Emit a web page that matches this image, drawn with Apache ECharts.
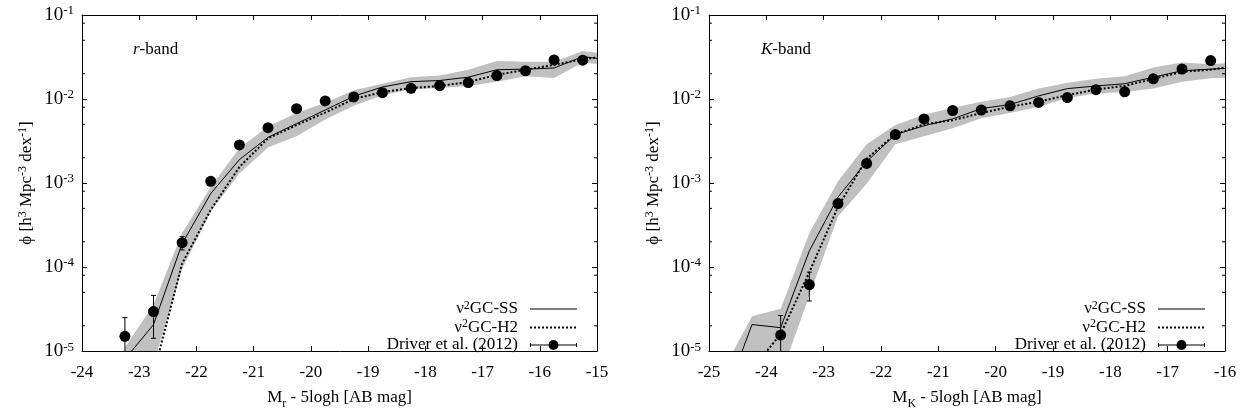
<!DOCTYPE html>
<html>
<head>
<meta charset="utf-8">
<script src="https://cdn.jsdelivr.net/npm/echarts@6/dist/echarts.min.js"></script>
<style>html,body{margin:0;padding:0;background:#fff}#c{width:1241px;height:415px}</style>
</head>
<body>
<div id="c"></div>
<script>
// ---------- data ----------
// r-band panel
const rModelX   = [-23.25,-22.75,-22.25,-21.75,-21.25,-20.75,-20.25,-19.75,-19.25,-18.75,-18.25,-17.75,-17.25,-16.75,-16.25,-15.75,-15.25,-14.75];
const rSS       = [8e-6,2.07e-5,1.9e-4,7.5e-4,1.9e-3,3.5e-3,5.1e-3,7.4e-3,1.08e-2,1.39e-2,1.61e-2,1.66e-2,1.82e-2,2.23e-2,2.27e-2,2.34e-2,3.2e-2,2.9e-2];
const rH2       = [1e-6,5.4e-6,1.1e-4,4.8e-4,1.55e-3,3.4e-3,4.9e-3,6.9e-3,1.0e-2,1.21e-2,1.35e-2,1.43e-2,1.59e-2,1.94e-2,2.23e-2,2.55e-2,2.98e-2,3.25e-2];
const rBandHi   = [1.1e-5,3.55e-5,2.55e-4,9e-4,2.6e-3,4.7e-3,6.8e-3,9.0e-3,1.27e-2,1.52e-2,1.82e-2,1.9e-2,2.23e-2,2.84e-2,2.77e-2,2.77e-2,3.72e-2,3.4e-2];
const rBandLo   = [1e-6,7e-6,9.5e-5,4.6e-4,1.3e-3,2.64e-3,3.6e-3,5.7e-3,8.3e-3,1.11e-2,1.3e-2,1.35e-2,1.43e-2,1.61e-2,1.87e-2,1.78e-2,2.72e-2,2.5e-2];
const rObsX     = [-23.25,-22.75,-22.25,-21.75,-21.25,-20.75,-20.25,-19.75,-19.25,-18.75,-18.25,-17.75,-17.25,-16.75,-16.25,-15.75,-15.25];
const rObs      = [1.5e-5,2.95e-5,1.95e-4,1.05e-3,2.84e-3,4.56e-3,7.67e-3,9.5e-3,1.06e-2,1.19e-2,1.34e-2,1.44e-2,1.57e-2,1.9e-2,2.17e-2,2.92e-2,2.9e-2];
const rObsHi    = [2.5e-5,4.6e-5,2.3e-4,null,null,null,null,null,null,null,null,null,null,null,null,null,null];
const rObsLo    = [5e-6,1.42e-5,1.6e-4,null,null,null,null,null,null,null,null,null,null,null,null,null,null];

// K-band panel
const kModelX   = [-24.75,-24.25,-23.75,-23.25,-22.75,-22.25,-21.75,-21.25,-20.75,-20.25,-19.75,-19.25,-18.75,-18.25,-17.75,-17.25,-16.75,-16.25,-15.75];
const kSS       = [2.5e-6,2.07e-5,1.9e-5,1.56e-4,6.8e-4,1.8e-3,3.77e-3,4.8e-3,5.8e-3,7.7e-3,8.6e-3,1.09e-2,1.33e-2,1.43e-2,1.52e-2,1.82e-2,2.17e-2,2.27e-2,2.36e-2];
const kH2       = [1e-6,6e-6,1.6e-5,8.7e-5,5.2e-4,1.95e-3,3.8e-3,5.0e-3,5.6e-3,6.8e-3,8.1e-3,9.3e-3,1.11e-2,1.3e-2,1.43e-2,1.74e-2,2.11e-2,2.23e-2,2.53e-2];
const kBandHi   = [6e-6,2.6e-5,3.2e-5,2.55e-4,1.05e-3,2.9e-3,4.9e-3,6.5e-3,7.9e-3,9.3e-3,1.06e-2,1.33e-2,1.56e-2,1.74e-2,1.87e-2,2.38e-2,2.72e-2,2.6e-2,2.75e-2];
const kBandLo   = [1e-7,1e-7,5e-6,4.6e-5,4.0e-4,9.8e-4,2.9e-3,3.6e-3,4.5e-3,5.9e-3,6.8e-3,8.1e-3,1.03e-2,1.16e-2,1.21e-2,1.33e-2,1.61e-2,1.77e-2,1.8e-2];
const kObsX     = [-23.75,-23.25,-22.75,-22.25,-21.75,-21.25,-20.75,-20.25,-19.75,-19.25,-18.75,-18.25,-17.75,-17.25,-16.75,-16.25];
const kObs      = [1.55e-5,6.2e-5,5.7e-4,1.71e-3,3.77e-3,5.8e-3,7.3e-3,7.4e-3,8.3e-3,9.1e-3,1.04e-2,1.29e-2,1.22e-2,1.74e-2,2.27e-2,2.87e-2];
const kObsHi    = [2.65e-5,8.7e-5,null,null,null,null,null,null,null,null,null,null,null,null,null,null];
const kObsLo    = [5e-6,3.95e-5,null,null,null,null,null,null,null,null,null,null,null,null,null,null];

// axes
const rXRange = [-24, -15];
const kXRange = [-25, -16];
const yRange  = [1e-5, 1e-1];
const minorTicks = [2e-5,5e-5,8e-5,2e-4,5e-4,8e-4,2e-3,5e-3,8e-3,2e-2,5e-2,8e-2];

// text
const NAME_SS = 'ν2GC-SS', NAME_H2 = 'ν2GC-H2', NAME_OBS = 'Driver et al. (2012)';
const legendLabels = {};
legendLabels[NAME_SS]  = '{n|ν}{s|2}{n|GC-SS}';
legendLabels[NAME_H2]  = '{n|ν}{s|2}{n|GC-H2}';
legendLabels[NAME_OBS] = '{n|Driver et al. (2012)}';

// ---------- styling ----------
const FONT = "'Liberation Serif', 'Times New Roman', serif";
const FS = 17;
const BAND = '#c0c0c0';
const richBase = {
  n:   {fontFamily: FONT, fontSize: FS, lineHeight: 17, fontWeight: 'normal', color: '#000'},
  s:   {fontFamily: FONT, fontSize: 12, lineHeight: 10, padding: [0,0,7,0], fontWeight: 'normal', color: '#000'},
  sub: {fontFamily: FONT, fontSize: 12, lineHeight: 12, padding: [12,0,0,0], fontWeight: 'normal', color: '#000'},
  i:   {fontFamily: FONT, fontSize: FS, lineHeight: 17, fontStyle: 'italic', fontWeight: 'normal', color: '#000'}
};

const zip = (xs, ys) => xs.map((x, i) => [x, ys[i]]);

function xAxes(gi, range, sub) {
  const common = {
    gridIndex: gi, type: 'value', min: range[0], max: range[1], interval: 1,
    axisLine: {show: true, onZero: false, lineStyle: {color: '#000', width: 1}},
    axisTick: {show: true, inside: true, length: 5, lineStyle: {color: '#000'}},
    splitLine: {show: false}
  };
  return [
    Object.assign({}, common, {
      position: 'bottom',
      axisLabel: {fontFamily: FONT, fontSize: FS, color: '#000', margin: 13},
      name: '{n|M}{sub|' + sub + '}{n| - 5logh [AB mag]}',
      nameLocation: 'middle', nameGap: 29,
      nameTextStyle: {rich: richBase}
    }),
    Object.assign({}, common, {position: 'top', axisLabel: {show: false}})
  ];
}
function yAxes(gi) {
  const common = {
    gridIndex: gi, type: 'log', logBase: 10, min: yRange[0], max: yRange[1],
    axisLine: {show: true, onZero: false, lineStyle: {color: '#000', width: 1}},
    axisTick: {show: true, inside: true, length: 5, lineStyle: {color: '#000'}},
    minorTick: {show: false},
    splitLine: {show: false}
  };
  return [
    Object.assign({}, common, {
      position: 'left',
      axisLabel: {
        margin: 8,
        formatter: v => '{b|10}{s|' + Math.round(Math.log10(v)) + '}',
        rich: {
          b: {fontFamily: FONT, fontSize: 19, lineHeight: 18, color: '#000'},
          s: {fontFamily: FONT, fontSize: 13, lineHeight: 10, padding: [0,0,8,0], color: '#000'}
        }
      },
      name: '{n|ϕ [h}{s|3}{n| Mpc}{s|-3}{n| dex}{s|-1}{n|]}',
      nameLocation: 'middle', nameGap: 47, nameRotate: 90,
      nameTextStyle: {rich: richBase}
    }),
    Object.assign({}, common, {position: 'right', axisLabel: {show: false}})
  ];
}

function bandSeries(ai, xs, lo, hi) {
  return {
    type: 'custom', xAxisIndex: ai, yAxisIndex: ai, clip: true, silent: true, z: 1,
    data: xs.map((x, i) => [x, lo[i], hi[i]]),
    encode: {x: 0, y: [1, 2]},
    renderItem(params, api) {
      if (params.dataIndex !== 0) return null;
      const pts = [];
      for (let i = 0; i < xs.length; i++) pts.push(api.coord([xs[i], hi[i]]));
      for (let i = xs.length - 1; i >= 0; i--) pts.push(api.coord([xs[i], lo[i]]));
      return {type: 'polygon', shape: {points: pts}, style: {fill: BAND}};
    }
  };
}
function lineSeries(ai, name, xs, ys, dotted) {
  return {
    type: 'line', name: name, xAxisIndex: ai, yAxisIndex: ai, z: 3,
    data: zip(xs, ys), symbol: 'none', clip: true, silent: true,
    lineStyle: dotted ? {color: '#000', width: 2, type: [2, 2]} : {color: '#000', width: 1},
    itemStyle: {color: '#000', opacity: 1}
  };
}
function errSeries(ai, xs, lo, hi) {
  const d = [];
  xs.forEach((x, i) => { if (hi[i] != null) d.push([x, lo[i], hi[i]]); });
  return {
    type: 'custom', name: 'err' + ai, xAxisIndex: ai, yAxisIndex: ai, clip: true, silent: true, z: 4,
    data: d, encode: {x: 0, y: [1, 2]},
    renderItem(params, api) {
      const x = api.value(0);
      const pl = api.coord([x, api.value(1)]);
      const ph = api.coord([x, api.value(2)]);
      const st = {stroke: '#000', lineWidth: 1};
      return {type: 'group', children: [
        {type: 'line', shape: {x1: pl[0], y1: pl[1], x2: ph[0], y2: ph[1]}, style: st},
        {type: 'line', shape: {x1: ph[0] - 2.5, y1: ph[1], x2: ph[0] + 2.5, y2: ph[1]}, style: st},
        {type: 'line', shape: {x1: pl[0] - 2.5, y1: pl[1], x2: pl[0] + 2.5, y2: pl[1]}, style: st}
      ]};
    }
  };
}
function obsSeries(ai, xs, ys) {
  return {
    type: 'scatter', name: NAME_OBS, xAxisIndex: ai, yAxisIndex: ai, z: 5,
    data: zip(xs, ys), symbol: 'circle', symbolSize: 11, clip: true, silent: true,
    itemStyle: {color: '#000', opacity: 1}
  };
}
function minorTickSeries(ai, range) {
  return {
    type: 'custom', name: 'minor' + ai, xAxisIndex: ai, yAxisIndex: ai, silent: true, z: 6,
    data: minorTicks.map(v => [range[0], v]), encode: {x: 0, y: 1},
    renderItem(params, api) {
      const v = api.value(1);
      const a = api.coord([range[0], v]);
      const b = api.coord([range[1], v]);
      const st = {stroke: '#000', lineWidth: 1};
      return {type: 'group', children: [
        {type: 'line', shape: {x1: a[0], y1: a[1], x2: a[0] + 3, y2: a[1]}, style: st},
        {type: 'line', shape: {x1: b[0], y1: b[1], x2: b[0] - 3, y2: b[1]}, style: st}
      ]};
    }
  };
}

const ICON_SS  = 'path://M0,0H0.01V0.01H0Z M0,4.5H47V5.5H0Z M46.99,9.99H47V10H46.99Z';
const ICON_H2  = 'path://M0,0H0.01V0.01H0Z M0,4H2V6H0Z M4,4H6V6H4Z M8,4H10V6H8Z M12,4H14V6H12Z M16,4H18V6H16Z M20,4H22V6H20Z M24,4H26V6H24Z M28,4H30V6H28Z M32,4H34V6H32Z M36,4H38V6H36Z M40,4H42V6H40Z M44,4H46V6H44Z M46.99,9.99H47V10H46.99Z';
const ICON_OBS = 'path://M0,4.5H47V5.5H0Z M0,3H1V7H0Z M46,3H47V7H46Z M28.5,5A5,5 0 1 1 18.5,5A5,5 0 1 1 28.5,5Z';

function legend(right) {
  return {
    orient: 'vertical', align: 'right', right: right, top: 299.5, padding: 0,
    itemWidth: 47, itemHeight: 10, itemGap: -0.5, selectedMode: false,
    itemStyle: {opacity: 1},
    data: [
      {name: NAME_SS, icon: ICON_SS, itemStyle: {color: '#000', opacity: 1}},
      {name: NAME_H2, icon: ICON_H2, itemStyle: {color: '#000', opacity: 1}},
      {name: NAME_OBS, icon: ICON_OBS, itemStyle: {color: '#000', opacity: 1}}
    ],
    formatter: n => legendLabels[n],
    textStyle: {fontFamily: FONT, fontSize: FS, color: '#000', padding: [0, 7, 0, 0], rich: richBase}
  };
}

const option = {
  backgroundColor: '#fff',
  animation: false,
  title: [
    {text: '{i|r}{n|-band}', left: 133, top: 41, padding: 0, textStyle: {fontWeight: 'normal', rich: richBase}},
    {text: '{i|K}{n|-band}', left: 761, top: 41, padding: 0, textStyle: {fontWeight: 'normal', rich: richBase}}
  ],
  legend: [legend(664), legend(36)],
  grid: [
    {left: 82, top: 15, width: 515, height: 342},
    {left: 709, top: 15, width: 516, height: 342}
  ],
  xAxis: [].concat(xAxes(0, rXRange, 'r'), xAxes(1, kXRange, 'K')),
  yAxis: [].concat(yAxes(0), yAxes(1)),
  series: [
    bandSeries(0, rModelX, rBandLo, rBandHi),
    lineSeries(0, NAME_SS, rModelX, rSS, false),
    lineSeries(0, NAME_H2, rModelX, rH2, true),
    errSeries(0, rObsX, rObsLo, rObsHi),
    obsSeries(0, rObsX, rObs),
    minorTickSeries(0, rXRange),
    bandSeries(2, kModelX, kBandLo, kBandHi),
    lineSeries(2, NAME_SS, kModelX, kSS, false),
    lineSeries(2, NAME_H2, kModelX, kH2, true),
    errSeries(2, kObsX, kObsLo, kObsHi),
    obsSeries(2, kObsX, kObs),
    minorTickSeries(2, kXRange)
  ]
};
const chart = echarts.init(document.getElementById('c'), null, {renderer: 'canvas'});
chart.setOption(option);
</script>
</body>
</html>
